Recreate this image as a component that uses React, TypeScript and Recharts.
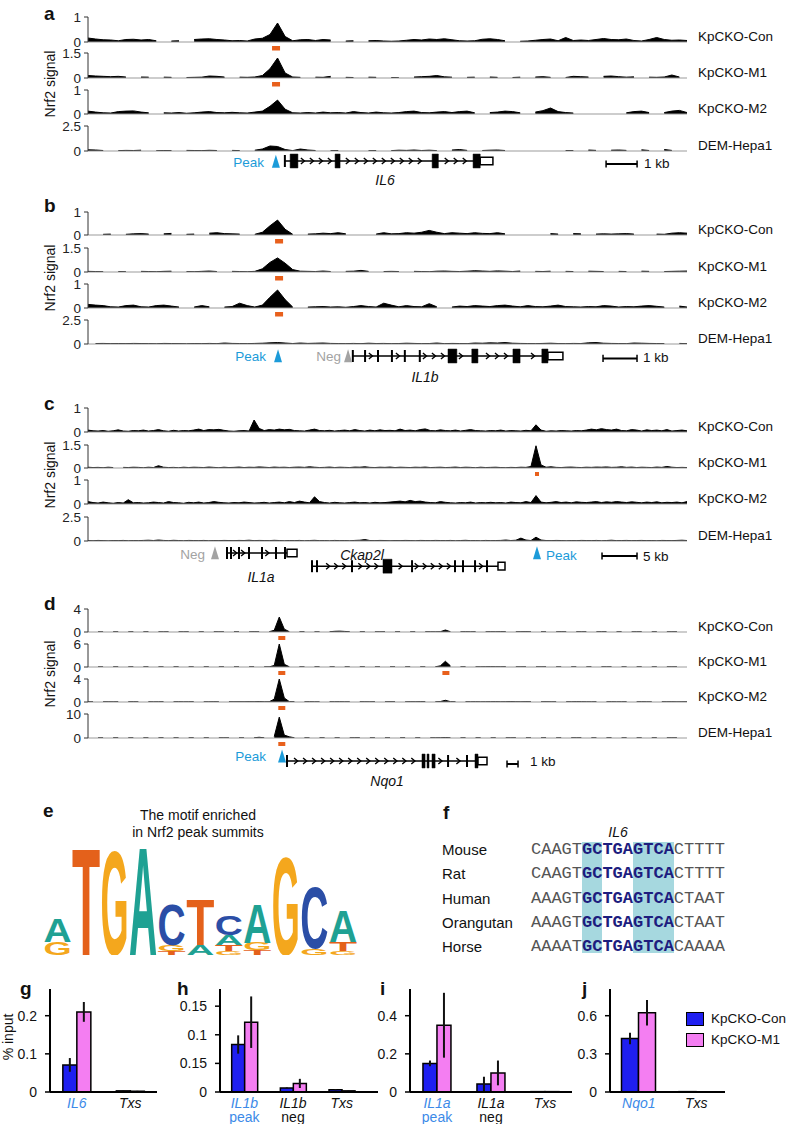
import React from "react";
import {
  AreaChart, Area, XAxis, YAxis, ReferenceLine, ReferenceDot, ReferenceArea,
  ComposedChart, Scatter, BarChart, Bar, ErrorBar,
} from "recharts";

const FONT = "'Liberation Sans', Arial, Helvetica, sans-serif";
const MONO = "'Liberation Mono', 'Courier New', monospace";
const ORANGE = "#e8601c";
const PEAK_BLUE = "#1c9bd9";
const NEG_GRAY = "#a3a3a3";
const CON_BLUE = "#1f1ff0";
const M1_PINK = "#f47ef2";
const CAT_BLUE = "#3c8ae8";

const trackNames = ["KpCKO-Con", "KpCKO-M1", "KpCKO-M2", "DEM-Hepa1"];

// ---- panel a : IL6 locus (80 bins) ----
const aCon = [
  .16,.12,.09,.08,.05,.1,.11,.08,.1,.05, 0,.04,.05,0,.1,.12,.13,.1,.08,.05,
  .06,.04,.12,.15,.3,.76,.22,.05,.09,.1, .06,.1,.08,0,.04,.05,0,.05,.06,.04,
  .03,.04,.07,.1,.08,.12,.1,.13,.09,.05, .04,.05,.11,.13,.1,.05,0,.03,.04,.07,
  .1,.12,.05,.18,.06,.08,.06,.1,.14,.1, .09,.12,.06,.04,.1,.18,.1,.07,.08,.06,
];
const aM1 = [
  .15,.12,.1,.08,.1,.06,0,.06,.05,0, .05,.04,0,.03,.04,.05,.12,.1,.06,0,
  .05,.04,.06,.15,.55,1.2,.3,.06,.04,0, .05,.04,.1,0,.04,.03,0,.05,.04,0,
  .03,.02,0,.06,.08,.1,.15,.07,.05,0, .04,.05,0,.06,.04,0,.03,.05,0,.06,
  .08,.04,0,.03,.1,.08,.06,0,.1,.12, .08,.05,.07,0,.05,.04,.06,.18,.06,0,
];
const aM2 = [
  .12,.08,.05,.04,.1,.12,.13,.08,.05,0, .05,.04,.06,.03,.05,.08,.1,.06,.05,.07,
  .05,.04,.08,.12,.32,.58,.2,.05,.04,.06, .04,.08,.05,.06,.04,.1,.06,.04,.08,.05,
  .04,.06,.1,.12,.06,.05,.08,.1,.06,.1, .12,.05,0,.06,.08,.12,.1,.05,0,.08,
  .14,.25,.1,.06,.04,0,.03,0,.04,0, 0,.05,.1,.12,.06,0,.06,.12,.15,.06,
];
const aHepa = [
  .12,.1,.05,0,.04,.06,.05,.08,0,.03, .05,.04,0,.06,.05,.04,.07,.05,0,.06,
  .04,0,.08,.2,.5,.45,.15,.04,.2,.1, .05,0,.04,.05,0,.04,0,.03,.04,0,
  .04,.08,.06,.1,.05,.08,.04,0,.1,.15, .06,0,.05,.08,.1,.05,0,.04,0,.05,
  0,.04,0,.05,.04,0,.1,.06,0,.08, .1,.06,0,.12,.05,0,.15,.06,0,.04,
];
const aMax = [1, 1.5, 1, 2.5];
const aCalls = [[24.8], [24.8], [], []];

// ---- panel b : IL1b locus (80 bins) ----
const bCon = [
  .03,0,.03,.04,0,.03,.05,.06,.04,0, .05,.07,0,.03,.04,0,.08,.1,.06,.05,
  .04,0,.03,.12,.4,.65,.25,.03,0,.04, .05,.08,.06,.1,.05,0,.03,0,.04,.1,
  .05,.06,.1,.08,.12,.2,.12,.06,.1,.08, .06,.1,.07,.06,.1,.05,0,.06,0,.05,
  0,.06,.04,0,.06,.05,0,.04,.05,.04, .05,.06,.04,0,0,.04,.03,.08,.1,.08,
];
const bM1 = [
  .04,.03,.02,0,.03,.02,0,.04,.03,.02, .04,.05,0,.03,.02,.04,.06,.03,0,.04,
  .03,.02,.04,.2,.6,.88,.55,.15,.05,.04, .03,.06,.03,0,.04,.05,.1,.04,0,.03,
  .04,.03,0,.04,.03,.02,.05,.06,.04,.03, .05,.08,.06,.04,.07,.05,.03,.06,0,.04,
  .03,.05,0,.04,.03,0,.05,.04,.03,0, .04,.03,0,.05,.04,0,.03,.04,.05,.06,
];
const bM2 = [
  .15,.12,.1,.05,.04,.1,.12,.05,.04,.1, .12,.08,.04,0,.04,.1,.05,0,.04,.06,
  .2,.1,.04,.12,.45,.75,.35,.04,0,.04, .05,.06,.04,.05,.03,.06,.1,.06,.04,.2,
  .12,.05,.1,.06,.05,.18,.05,0,.04,.08, .06,.1,.08,.06,.1,.12,.08,.05,.1,.06,
  .05,.08,.12,.06,.05,.04,.06,.05,.1,.08, .04,.06,.05,.08,.1,.07,.04,0,.08,.04,
];
const bHepa = [
  0,.05,.06,.04,.05,.04,.06,.05,.04,.03, .06,.05,.04,.03,.05,.04,.06,.04,.1,.06,
  .05,.04,.06,.08,.12,.15,.1,.05,.1,.06, .08,.1,.06,.05,.04,.06,.04,.08,.05,.06,
  .04,.05,.08,.06,.04,.05,.1,.04,.06,.05, .04,.1,.08,.12,.1,.15,.08,.06,.05,.04,
  .06,.08,.05,.04,.06,.05,.12,.15,.08,.06, .05,.04,.1,.08,.06,.05,.04,0,.06,.04,
];
const bMax = [1, 1.5, 1, 2.5];
const bCalls = [[25.2], [25.2], [25.2], []];

// ---- panel c : IL1a / Ckap2l locus (120 bins) ----
const cCon = [
  .08,.05,.04,.06,.03,.05,.09,.04,.03,.06, .05,.08,.04,.06,.1,.05,.03,.07,.04,.06,
  .05,.08,.12,.06,.1,.09,.11,.07,.04,.03, .05,.06,.04,.5,.15,.06,.1,.08,.12,.09,
  .11,.06,.05,.04,.08,.12,.06,.05,.07,.04, .06,.08,.05,.1,.06,.04,.08,.05,.09,.06,
  .07,.05,.12,.06,.08,.05,.1,.13,.06,.05, .09,.06,.05,.08,.04,.07,.1,.06,.05,.04,
  .06,.05,.08,.04,.06,.05,.04,.07,.05,.3, .08,.03,.05,.04,.06,.05,.04,.06,.05,.08,
  .12,.09,.14,.1,.08,.12,.06,.05,.1,.08, .04,.09,.06,.08,.05,.1,.04,.06,.08,.05,
];
const cM1 = [
  .05,.03,.04,.02,.05,.03,0,.04,.03,.05, .04,.02,.05,.03,.15,.05,.03,.04,.02,.05,
  .03,.05,.04,.03,.06,.04,.02,.05,.03,.04, .06,.03,.05,.04,.07,.05,.03,.06,.04,.05,
  .03,.05,.06,.04,.08,.05,.03,.04,.06,.03, .05,.04,.03,.06,.05,.08,.04,.03,.05,.04,
  .06,.03,.05,.04,.03,.05,.04,.06,.03,.04, .05,.03,.04,.06,.03,.05,.04,.02,.05,.03,
  .04,.05,.03,.02,.04,.03,.05,.04,.1,1.45, .2,.05,.08,.04,.03,.05,.06,.04,.03,.05,
  .04,.06,.05,.07,.04,.05,.08,.04,.06,.03, .05,.04,.03,.06,.04,.1,.05,.03,.04,.03,
];
const cM2 = [
  .1,.06,.04,.08,.05,.03,.06,.04,.18,.05, .06,.04,.05,.08,.06,.04,.1,.06,.05,.03,
  .07,.05,.08,.04,.06,.1,.07,.05,.04,.06, .05,.08,.06,.04,.05,.07,.04,.06,.08,.05,
  .1,.06,.12,.08,.05,.3,.1,.06,.04,.07, .05,.04,.06,.08,.05,.06,.04,.07,.05,.06,
  .08,.1,.12,.09,.15,.1,.12,.08,.06,.05, .1,.07,.05,.04,.06,.05,.08,.04,.06,.05,
  .07,.05,.06,.04,.08,.06,.05,.1,.06,.35, .08,.05,.07,.1,.06,.08,.05,.09,.07,.06,
  .08,.1,.06,.09,.07,.1,.08,.06,.09,.07, .05,.08,.06,.09,.05,.07,.06,.08,.05,.1,
];
const cHepa = [
  .05,.03,.06,.04,.02,.05,.04,.06,.03,.05, .04,.06,.08,.05,.1,.06,.04,.07,.05,.03,
  .06,.05,.04,.06,.03,.05,.04,.06,.05,.04, .06,.05,.08,.04,.06,.05,.04,.07,.05,.03,
  .05,.04,.06,.03,.05,.07,.04,.05,.03,.06, .04,.05,.03,.06,.08,.15,.05,.04,.06,.05,
  .03,.05,.04,.06,.05,.03,.06,.05,.04,.06, .05,.04,.06,.03,.05,.07,.04,.05,.03,.06,
  .04,.05,.06,.1,.05,.08,.3,.1,.05,.4, .1,.05,.04,.06,.05,.03,.05,.04,.06,.05,
  .04,.06,.03,.05,.08,.04,.05,.06,.04,.05, .06,.04,.05,.03,.06,.05,.04,.06,.08,.05,
];
const cMax = [1, 1.5, 1, 2.5];
const cCalls = [[], [89.2], [], []];

// ---- panel d : Nqo1 locus (120 bins) ----
const dCon = [
  .05,0,.04,.03,0,.05,.04,0,.03,.05, 0,.04,.05,0,.04,.03,.05,0,.04,.03,
  .05,0,.03,.04,0,.05,.03,.04,0,.05, .04,0,.03,.05,.04,0,.05,.3,2.6,.5,
  .05,0,.04,.05,0,.04,.03,0,.05,.12, .15,.1,.05,0,.04,.05,0,.04,.03,.05,
  0,.04,.05,0,.03,.04,0,.05,.04,.03, .05,.35,.05,0,.04,.05,.03,.05,0,.04,
  .05,.04,.06,.05,0,.04,.05,.06,.04,0, .05,.04,0,.03,.05,.04,0,.05,.04,.05,
  0,.04,.05,.06,0,.04,.05,0,.03,.04, .05,0,.04,.05,0,.03,.04,.05,0,.04,
];
const dM1 = [
  .06,0,.05,.04,0,.06,.05,0,.04,.06, 0,.05,.06,0,.05,.04,0,.06,.05,0,
  .05,.04,0,.06,.05,0,.04,.06,0,.05, .04,0,.05,.06,0,.05,.04,.4,6,.7,
  .06,0,.05,.04,0,.06,.05,0,.04,.06, 0,.05,.04,0,.06,.05,0,.04,.05,0,
  .06,.05,0,.04,.06,0,.05,.04,0,.06, .3,1.5,.3,0,.05,.06,0,.05,.04,.06,
  .08,.06,.05,.07,0,.05,.04,.06,0,.05, .04,.06,0,.05,.04,0,.06,.05,0,.04,
  .06,0,.05,.04,.06,0,.05,.04,0,.06, .05,0,.04,.06,0,.05,.04,.06,0,.05,
];
const dM2 = [
  .05,.04,0,.05,.04,.03,.05,0,.04,.05, .04,0,.05,.03,.04,.05,0,.04,.05,.03,
  .04,.05,0,.04,.03,.05,.04,0,.05,.04, .05,.04,.06,.05,.08,.04,.05,.5,4,.7,
  .06,.05,0,.04,.05,.03,.04,0,.05,.04, .05,.03,.04,0,.05,.04,.03,.05,0,.04,
  .05,.04,0,.03,.05,.04,.06,.05,0,.04, .08,.3,.06,.04,0,.05,.04,.05,.03,.04,
  .05,.06,.04,.05,.07,.05,.04,.06,.05,0, .04,.05,.03,.04,0,.05,.04,.06,.05,.04,
  .03,.05,0,.04,.05,.03,.04,.05,0,.04, .05,.04,.03,0,.05,.04,.05,.03,.04,.05,
];
const dHepa = [
  .1,0,.08,.1,0,.12,.1,0,.08,.1, 0,.1,.08,0,.1,.12,0,.1,.08,0,
  .1,.12,0,.08,.1,0,.1,.08,.1,0, .1,.08,0,.1,.3,.1,0,.6,8.7,1.2,
  .5,.1,0,.1,.08,0,.12,.1,0,.08, .1,0,.08,.1,.12,0,.1,.08,0,.1,
  .08,0,.1,.12,0,.08,.1,0,.1,.08, .1,.2,.1,0,.08,.1,0,.12,.1,0,
  .08,.1,0,.1,.08,.12,0,.1,.08,0, .1,.12,0,.08,.1,0,.1,.08,.12,0,
  .1,.08,0,.1,.12,0,.08,.1,0,.1, .08,0,.1,.12,0,.1,.08,.1,0,.08,
];
const dMax = [4, 6, 4, 10];
const dCalls = [[38.5], [38.5, 71.1], [38.5], [38.5]];

// ---- panel e : motif logo (bits per position) ----
const logoA = [0.39, 0, 0, 1.83, 0, 0.17, 0.17, 0.67, 0, 0, 0.53];
const logoC = [0, 0, 0, 0, 0.69, 0, 0.32, 0, 0, 1.03, 0];
const logoG = [0.22, 0, 1.78, 0, 0.11, 0, 0.06, 0.12, 1.67, 0.11, 0.06];
const logoT = [0, 1.81, 0, 0, 0.06, 0.78, 0.11, 0.08, 0, 0, 0.15];

// ---- panel f : alignment ----
const species = ["Mouse", "Rat", "Human", "Orangutan", "Horse"];
const seqs = [
  "CAAGTGCTGAGTCACTTTT",
  "CAAGTGCTGAGTCACTTTT",
  "AAAGTGCTGAGTCACTAAT",
  "AAAGTGCTGAGTCACTAAT",
  "AAAATGCTGAGTCACAAAA",
];

// ---- panels g-j : ChIP-qPCR (% input) ----
const gNames = ["IL6", "Txs"];
const gSubs = ["", ""];
const gPeak = [true, false];
const gCon = [0.071, 0.003];
const gConErr = [0.018, 0.001];
const gM1 = [0.21, 0.002];
const gM1Err = [0.026, 0.001];
const gTicks = [0, 0.1, 0.2];
const gTickLabels = ["0", "0.1", "0.2"];

const hNames = ["IL1b", "IL1b", "Txs"];
const hSubs = ["peak", "neg", ""];
const hPeak = [true, false, false];
const hCon = [0.083, 0.007, 0.004];
const hConErr = [0.016, 0.001, 0.001];
const hM1 = [0.122, 0.015, 0.002];
const hM1Err = [0.045, 0.008, 0.001];
const hTicks = [0, 0.05, 0.1, 0.15];
const hTickLabels = ["0", "0.15", "0.1", "0.15"];

const iNames = ["IL1a", "IL1a", "Txs"];
const iSubs = ["peak", "neg", ""];
const iPeak = [true, false, false];
const iCon = [0.15, 0.042, 0.002];
const iConErr = [0.015, 0.038, 0.001];
const iM1 = [0.35, 0.1, 0.002];
const iM1Err = [0.17, 0.065, 0.001];
const iTicks = [0, 0.2, 0.4];
const iTickLabels = ["0", "0.2", "0.4"];

const jNames = ["Nqo1", "Txs"];
const jSubs = ["", ""];
const jPeak = [true, false];
const jCon = [0.42, 0.003];
const jConErr = [0.045, 0.001];
const jM1 = [0.623, 0.002];
const jM1Err = [0.1, 0.001];
const jTicks = [0, 0.3, 0.6];
const jTickLabels = ["0", "0.3", "0.6"];

function Txt({ x, y, children, anchor = "start", size = 13.5, color = "#111", italic = false, bold = false, rotate = 0 }: any) {
  const tx = anchor === "middle" ? "-50%" : anchor === "end" ? "-100%" : "0";
  return (
    <div
      style={{
        position: "absolute", left: x, top: y,
        transform: `translate(${tx}, -50%)${rotate ? ` rotate(${rotate}deg)` : ""}`,
        fontSize: size, color, fontStyle: italic ? "italic" : "normal",
        fontWeight: bold ? 700 : 400, whiteSpace: "nowrap", lineHeight: 1,
      }}
    >
      {children}
    </div>
  );
}

function Track({ values, n, max, top, base, calls, callW, callH }: any) {
  const data = values.map((v: number, i: number) => ({ i, v: v === 0 ? null : v }));
  return (
    <div style={{ position: "absolute", left: 40, top: top - 8 }}>
      <AreaChart width={647} height={base - top + 18} data={data} margin={{ top: 8, right: 0, bottom: 10, left: 0 }}>
        <XAxis type="number" dataKey="i" domain={[0, n - 1]} hide allowDataOverflow />
        <YAxis
          type="number" domain={[0, max]} ticks={[0, max]} interval={0} width={48}
          tickSize={4} tickMargin={3} allowDataOverflow
          tick={{ fontSize: 13.5, fill: "#222", fontFamily: FONT }}
          axisLine={{ stroke: "#333" }} tickLine={{ stroke: "#333" }}
        />
        <ReferenceLine y={0} stroke="#9b9b9b" strokeWidth={1} />
        <Area
          type="linear" dataKey="v" stroke="#000" strokeWidth={1} fill="#000" fillOpacity={1}
          isAnimationActive={false} connectNulls={false} dot={false} activeDot={false}
        />
        {calls.map((c: number, k: number) => (
          <ReferenceDot
            key={k} x={c} y={0} ifOverflow="visible"
            shape={(p: any) => <rect x={p.cx - callW / 2} y={p.cy + 4} width={callW} height={callH} fill={ORANGE} />}
          />
        ))}
      </AreaChart>
    </div>
  );
}

function TrackPanel({ sets, n, maxes, tops, bases, calls, callW, callH }: any) {
  return (
    <>
      {sets.map((vals: number[], k: number) => (
        <Track key={k} values={vals} n={n} max={maxes[k]} top={tops[k]} base={bases[k]} calls={calls[k]} callW={callW} callH={callH} />
      ))}
      {trackNames.map((nm, k) => (
        <Txt key={nm} x={698} y={bases[k] - 5} size={13.5}>{nm}</Txt>
      ))}
      <Txt x={50} y={(tops[0] + bases[3]) / 2} anchor="middle" size={14} rotate={-90}>Nrf2 signal</Txt>
    </>
  );
}

const chevronShape = (p: any) => (
  <path d={`M${p.cx - 2},${p.cy - 3} L${p.cx + 1.6},${p.cy} L${p.cx - 2},${p.cy + 3}`} stroke="#000" strokeWidth={1.4} fill="none" />
);
const triShape = (color: string) => (p: any) => (
  <path d={`M${p.cx},${p.cy - 8} L${p.cx + 4},${p.cy + 5} L${p.cx - 4},${p.cy + 5} Z`} fill={color} />
);

function GeneRow({ top, height, span, yMax, genes, markers, bar, chevronKb }: any) {
  const chevrons: { x: number; y: number }[] = [];
  genes.forEach((g: any) => {
    const blocks = [...g.thin.map((t: number) => [t, t]), ...g.exons, ...g.utrs];
    const [a, b] = g.intron;
    for (let x = a + chevronKb; x < b - chevronKb * 0.4; x += chevronKb) {
      if (blocks.some(([s, e]: number[]) => x > s - chevronKb * 0.45 && x < e + chevronKb * 0.45)) continue;
      chevrons.push({ x, y: g.lane });
    }
  });
  return (
    <div style={{ position: "absolute", left: 88, top }}>
      <ComposedChart width={599} height={height} data={[{ x: 0, y: 0 }, { x: span, y: 0 }]} margin={{ top: 0, right: 0, bottom: 0, left: 0 }}>
        <XAxis type="number" dataKey="x" domain={[0, span]} hide allowDataOverflow />
        <YAxis type="number" dataKey="y" domain={[-yMax, yMax]} hide allowDataOverflow />
        <Scatter dataKey="y" fill="none" isAnimationActive={false} shape={() => <g />} />
        {genes.map((g: any, gi: number) => (
          <React.Fragment key={gi}>
            <ReferenceLine segment={[{ x: g.intron[0], y: g.lane }, { x: g.intron[1], y: g.lane }]} stroke="#000" strokeWidth={1.5} ifOverflow="visible" />
            {g.thin.map((t: number, k: number) => (
              <ReferenceLine key={`t${k}`} segment={[{ x: t, y: g.lane - 0.5 }, { x: t, y: g.lane + 0.5 }]} stroke="#000" strokeWidth={2} ifOverflow="visible" />
            ))}
            {g.exons.map(([s, e]: number[], k: number) => (
              <ReferenceArea key={`e${k}`} x1={s} x2={e} y1={g.lane - 0.58} y2={g.lane + 0.58} fill="#000" fillOpacity={1} stroke="#000" strokeWidth={0.5} ifOverflow="visible" />
            ))}
            {g.utrs.map(([s, e]: number[], k: number) => (
              <ReferenceArea key={`u${k}`} x1={s} x2={e} y1={g.lane - 0.32} y2={g.lane + 0.32} fill="#fff" fillOpacity={1} stroke="#000" strokeWidth={1.5} ifOverflow="visible" />
            ))}
          </React.Fragment>
        ))}
        {chevrons.map((c, k) => (
          <ReferenceDot key={`c${k}`} x={c.x} y={c.y} ifOverflow="visible" shape={chevronShape} />
        ))}
        {markers.map((m: any, k: number) => (
          <ReferenceDot key={`m${k}`} x={m.x} y={m.y} ifOverflow="visible" shape={triShape(m.color)} />
        ))}
        <ReferenceLine segment={[{ x: bar.x1, y: bar.y }, { x: bar.x2, y: bar.y }]} stroke="#000" strokeWidth={2} ifOverflow="visible" />
        <ReferenceLine segment={[{ x: bar.x1, y: bar.y - 0.3 }, { x: bar.x1, y: bar.y + 0.3 }]} stroke="#000" strokeWidth={1.5} ifOverflow="visible" />
        <ReferenceLine segment={[{ x: bar.x2, y: bar.y - 0.3 }, { x: bar.x2, y: bar.y + 0.3 }]} stroke="#000" strokeWidth={1.5} ifOverflow="visible" />
      </ComposedChart>
    </div>
  );
}

const LETTER_COLORS: Record<string, string> = { A: "#1fa193", C: "#2b4ea6", G: "#f4a71d", T: "#e4611b" };
const LETTER_ADV: Record<string, number> = { A: 72.2, C: 72.2, G: 77.8, T: 61.1 };

function LogoLetter(props: any) {
  const { x, y, width, height, payload, slot } = props;
  const letter = payload ? payload[`l${slot}`] : "";
  if (!letter || !height || height < 0.5) return null;
  const sx = (width * 0.97) / LETTER_ADV[letter];
  const sy = height / 71.6;
  return (
    <text transform={`translate(${x + width * 0.015},${y + height}) scale(${sx},${sy})`} x={0} y={0} fontSize={100} fontWeight="bold" fontFamily={FONT} fill={LETTER_COLORS[letter]}>
      {letter}
    </text>
  );
}

function CatTick(props: any) {
  const { x, y, payload, rows } = props;
  const r = rows[payload.index];
  if (!r) return null;
  const col = r.peak ? CAT_BLUE : "#111";
  return (
    <g>
      <text x={x} y={y + 16} textAnchor="middle" fontSize={14} fontStyle="italic" fill={col} fontFamily={FONT}>{r.name}</text>
      {r.sub ? <text x={x} y={y + 30} textAnchor="middle" fontSize={14} fill={col} fontFamily={FONT}>{r.sub}</text> : null}
    </g>
  );
}

function QpcrPanel({ left, width, names, subs, peaks, con, conErr, m1, m1Err, max, ticks, tickLabels, gap, padRight = 0 }: any) {
  const rows = names.map((nm: string, k: number) => ({
    key: `${nm} ${subs[k]}`.trim(), name: nm, sub: subs[k], peak: peaks[k],
    con: con[k], conErr: conErr[k], m1: m1[k], m1Err: m1Err[k],
  }));
  return (
    <div style={{ position: "absolute", left, top: 984 }}>
      <BarChart width={width} height={140} data={rows} margin={{ top: 5, right: 3, left: 0, bottom: 0 }} barGap={0} barCategoryGap={gap}>
        <XAxis
          dataKey="key" height={32} interval={0} tickSize={0} tickMargin={0} padding={{ left: 0, right: padRight }}
          axisLine={{ stroke: "#000", strokeWidth: 2 }} tickLine={false}
          tick={(p: any) => <CatTick {...p} rows={rows} />}
        />
        <YAxis
          type="number" domain={[0, max]} ticks={ticks} interval={0} width={50} allowDataOverflow
          tickFormatter={(v: number, k: number) => tickLabels[k] ?? String(v)}
          tickSize={5} tickMargin={8}
          axisLine={{ stroke: "#000", strokeWidth: 2 }} tickLine={{ stroke: "#000", strokeWidth: 1.5 }}
          tick={{ fontSize: 14, fill: "#111", fontFamily: FONT }}
        />
        <Bar dataKey="con" fill={CON_BLUE} stroke="#000" strokeWidth={1.5} isAnimationActive={false}>
          <ErrorBar dataKey="conErr" width={0} stroke="#111" strokeWidth={2} />
        </Bar>
        <Bar dataKey="m1" fill={M1_PINK} stroke="#000" strokeWidth={1.5} isAnimationActive={false}>
          <ErrorBar dataKey="m1Err" width={0} stroke="#111" strokeWidth={2} />
        </Bar>
      </BarChart>
    </div>
  );
}

export default function App() {
  const logoRows = logoA.map((_, k) => {
    const items = ([["A", logoA[k]], ["C", logoC[k]], ["G", logoG[k]], ["T", logoT[k]]] as [string, number][])
      .filter(([, h]) => h > 0)
      .sort((p, q) => p[1] - q[1]);
    const row: any = { pos: k + 1 };
    for (let s = 0; s < 4; s++) {
      row[`h${s}`] = items[s] ? items[s][1] : 0;
      row[`l${s}`] = items[s] ? items[s][0] : "";
    }
    return row;
  });

  const charW = 10.2;
  const seqLeft = 531;
  const rowYs = [849, 873, 898, 922, 946];

  return (
    <div style={{ position: "absolute", left: 0, top: 0, width: 788, height: 1126, overflow: "hidden", background: "#fff", fontFamily: FONT, color: "#111" }}>
      {/* a */}
      <Txt x={44} y={13} size={19} bold>a</Txt>
      <TrackPanel sets={[aCon, aM1, aM2, aHepa]} n={80} maxes={aMax} tops={[17, 53, 90, 126]} bases={[42, 78, 114, 151]} calls={aCalls} callW={8} callH={4.5} />
      <GeneRow
        top={149} height={24} span={19.32} yMax={1} chevronKb={0.29}
        genes={[{ lane: 0, intron: [6.35, 12.65], thin: [6.35], exons: [[6.52, 6.77], [7.97, 8.13], [11.1, 11.3], [12.42, 12.65]], utrs: [[12.65, 13.06]] }]}
        markers={[{ x: 6.06, y: -0.15, color: PEAK_BLUE }]}
        bar={{ x1: 16.71, x2: 17.71, y: -0.25 }}
      />
      <Txt x={264} y={163} anchor="end" color={PEAK_BLUE}>Peak</Txt>
      <Txt x={385} y={180} anchor="middle" size={14} italic>IL6</Txt>
      <Txt x={644} y={164}>1 kb</Txt>

      {/* b */}
      <Txt x={44} y={205} size={19} bold>b</Txt>
      <TrackPanel sets={[bCon, bM1, bM2, bHepa]} n={80} maxes={bMax} tops={[212, 248, 284, 320]} bases={[235, 272, 308, 344]} calls={bCalls} callW={8} callH={4.5} />
      <GeneRow
        top={344} height={24} span={17.62} yMax={1} chevronKb={0.265}
        genes={[{ lane: 0, intron: [7.79, 13.53], thin: [7.79, 8.15, 8.53, 8.94, 9.32, 9.76], exons: [[10.59, 10.85], [11.29, 11.47], [12.5, 12.71], [13.35, 13.53]], utrs: [[13.53, 13.97]] }]}
        markers={[{ x: 5.59, y: -0.1, color: PEAK_BLUE }, { x: 7.65, y: -0.1, color: NEG_GRAY }]}
        bar={{ x1: 15.15, x2: 16.15, y: -0.2 }}
      />
      <Txt x={266} y={357} anchor="end" color={PEAK_BLUE}>Peak</Txt>
      <Txt x={341} y={357} anchor="end" color={NEG_GRAY}>Neg</Txt>
      <Txt x={425} y={377} anchor="middle" size={14} italic>IL1b</Txt>
      <Txt x={643} y={358}>1 kb</Txt>

      {/* c */}
      <Txt x={44} y={403} size={19} bold>c</Txt>
      <TrackPanel sets={[cCon, cM1, cM2, cHepa]} n={120} maxes={cMax} tops={[408, 445, 480, 517]} bases={[432, 468, 504, 541]} calls={cCalls} callW={4} callH={4} />
      <GeneRow
        top={541} height={36} span={85.57} yMax={1.5} chevronKb={1.15}
        genes={[
          { lane: 0.5, intron: [19.86, 28.43], thin: [19.86, 20.43, 21.57, 23, 24.86, 26.86, 28.14], exons: [], utrs: [[28.43, 29.86]] },
          { lane: -0.6, intron: [32, 58.57], thin: [32, 32.71, 37.71, 46.29, 52.43, 53.57, 55.29, 57], exons: [[42.14, 43.43]], utrs: [[58.57, 59.57]] },
        ]}
        markers={[{ x: 18.14, y: 0.4, color: NEG_GRAY }, { x: 64.14, y: 0.4, color: PEAK_BLUE }]}
        bar={{ x1: 73.43, x2: 78.43, y: 0.25 }}
      />
      <Txt x={205} y={555} anchor="end" color={NEG_GRAY}>Neg</Txt>
      <Txt x={546} y={556} color={PEAK_BLUE}>Peak</Txt>
      <Txt x={261} y={577} anchor="middle" size={14} italic>IL1a</Txt>
      <Txt x={362} y={555} anchor="middle" size={14} italic>Ckap2l</Txt>
      <Txt x={643} y={557}>5 kb</Txt>

      {/* d */}
      <Txt x={44} y={603} size={19} bold>d</Txt>
      <TrackPanel sets={[dCon, dM1, dM2, dHepa]} n={120} maxes={dMax} tops={[609, 644, 679, 714]} bases={[632, 667, 702, 738]} calls={dCalls} callW={7} callH={4} />
      <GeneRow
        top={749} height={24} span={54.45} yMax={1} chevronKb={0.82}
        genes={[{ lane: 0, intron: [18.09, 35.45], thin: [18.09, 32.73, 34.45], exons: [[30.36, 30.64], [30.82, 31.0], [31.27, 31.55], [35.18, 35.45]], utrs: [[35.45, 36.27]] }]}
        markers={[{ x: 17.64, y: 0.3, color: PEAK_BLUE }]}
        bar={{ x1: 38.09, x2: 39.09, y: -0.25 }}
      />
      <Txt x={266} y={757} anchor="end" color={PEAK_BLUE}>Peak</Txt>
      <Txt x={387} y={781} anchor="middle" size={14} italic>Nqo1</Txt>
      <Txt x={530} y={762}>1 kb</Txt>

      {/* e */}
      <Txt x={43} y={810} size={19} bold>e</Txt>
      <Txt x={198} y={815} anchor="middle" size={14}>The motif enriched</Txt>
      <Txt x={198} y={832} anchor="middle" size={14}>in Nrf2 peak summits</Txt>
      <div style={{ position: "absolute", left: 43, top: 835 }}>
        <BarChart width={314} height={120} data={logoRows} margin={{ top: 0, right: 0, bottom: 0, left: 0 }} barCategoryGap={0} barGap={0}>
          <XAxis dataKey="pos" hide />
          <YAxis type="number" domain={[0, 2]} hide allowDataOverflow />
          {[0, 1, 2, 3].map((s) => (
            <Bar key={s} dataKey={`h${s}`} stackId="s" isAnimationActive={false} shape={(p: any) => <LogoLetter {...p} slot={s} />} />
          ))}
        </BarChart>
      </div>

      {/* f */}
      <Txt x={443} y={812} size={19} bold>f</Txt>
      <Txt x={618} y={832} anchor="middle" size={14} italic>IL6</Txt>
      <div style={{ position: "absolute", left: seqLeft + 5 * charW, top: 842, width: 2 * charW, height: 111, background: "#a6d8df" }} />
      <div style={{ position: "absolute", left: seqLeft + 10 * charW, top: 842, width: 4 * charW, height: 111, background: "#a6d8df" }} />
      {species.map((sp, k) => (
        <React.Fragment key={sp}>
          <Txt x={442} y={rowYs[k]} size={15}>{sp}</Txt>
          <div style={{ position: "absolute", left: seqLeft, top: rowYs[k], transform: "translateY(-50%)", fontFamily: MONO, fontSize: 17, lineHeight: 1, whiteSpace: "pre" }}>
            <span style={{ color: "#555" }}>{seqs[k].slice(0, 5)}</span>
            <span style={{ color: "#1d1d7e", fontWeight: 700 }}>{seqs[k].slice(5, 14)}</span>
            <span style={{ color: "#555" }}>{seqs[k].slice(14)}</span>
          </div>
        </React.Fragment>
      ))}

      {/* g - j */}
      <Txt x={8} y={1037} anchor="middle" size={14} rotate={-90}>% input</Txt>
      <Txt x={20} y={988} size={19} bold>g</Txt>
      <Txt x={177} y={988} size={19} bold>h</Txt>
      <Txt x={380} y={988} size={19} bold>i</Txt>
      <Txt x={582} y={988} size={19} bold>j</Txt>
      <QpcrPanel left={0} width={160} names={gNames} subs={gSubs} peaks={gPeak} con={gCon} conErr={gConErr} m1={gM1} m1Err={gM1Err} max={0.27} ticks={gTicks} tickLabels={gTickLabels} gap="24%" />
      <QpcrPanel left={170} width={211} names={hNames} subs={hSubs} peaks={hPeak} con={hCon} conErr={hConErr} m1={hM1} m1Err={hM1Err} max={0.18} ticks={hTicks} tickLabels={hTickLabels} gap="24%" padRight={12} />
      <QpcrPanel left={360} width={215} names={iNames} subs={iSubs} peaks={iPeak} con={iCon} conErr={iConErr} m1={iM1} m1Err={iM1Err} max={0.54} ticks={iTicks} tickLabels={iTickLabels} gap="24%" />
      <QpcrPanel left={560} width={168} names={jNames} subs={jSubs} peaks={jPeak} con={jCon} conErr={jConErr} m1={jM1} m1Err={jM1Err} max={0.81} ticks={jTicks} tickLabels={jTickLabels} gap="20%" />

      {/* legend */}
      <div style={{ position: "absolute", left: 686, top: 1012, width: 18, height: 14, background: CON_BLUE, border: "1.5px solid #000", boxSizing: "border-box" }} />
      <div style={{ position: "absolute", left: 686, top: 1033, width: 18, height: 14, background: M1_PINK, border: "1.5px solid #000", boxSizing: "border-box" }} />
      <Txt x={711} y={1019} size={13.5}>KpCKO-Con</Txt>
      <Txt x={711} y={1040} size={13.5}>KpCKO-M1</Txt>
    </div>
  );
}
